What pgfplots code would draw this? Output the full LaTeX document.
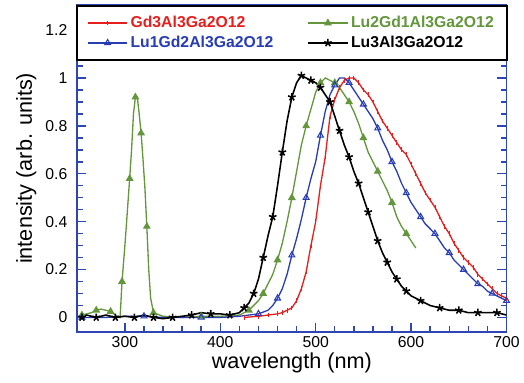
\documentclass[border=0pt]{standalone}
\usepackage{fontspec}
\setmainfont{Liberation Sans}
\usepackage{pgfplots}
\pgfplotsset{compat=1.18}
\definecolor{myred}{RGB}{232,30,30}
\definecolor{myblue}{RGB}{40,60,180}
\definecolor{mygreen}{RGB}{100,150,60}
\definecolor{frameblue}{RGB}{45,70,180}
\begin{document}
\begin{tikzpicture}
\begin{axis}[
  scale only axis, width=327pt, height=249pt,
  xmin=250, xmax=700, ymin=-0.06, ymax=1.305,
  xtick={300,400,500,600,700}, minor x tick num=4,
  ytick={0,0.2,0.4,0.6,0.8,1,1.2}, minor y tick num=3,
  tick align=inside, major tick length=7pt, minor tick length=4.5pt,
  axis line style={frameblue, line width=1.5pt},
  tick style={frameblue, line width=1.1pt},
  ticklabel style={font=\fontsize{12}{14}\selectfont},
  yticklabel style={xshift=-4pt},
  /pgf/number format/assume math mode=true,
  xlabel={wavelength (nm)}, ylabel={intensity (arb. units)},
  label style={font=\fontsize{16.5}{19}\selectfont},
  xlabel style={yshift=3pt},
  legend columns=2,
  legend style={at={(0.5,1)}, anchor=north, draw=black, line width=1.3pt, fill=white,
    font=\bfseries\fontsize{12}{14}\selectfont, inner xsep=8pt, inner ysep=6pt, row sep=1pt,
    /tikz/every even column/.append style={column sep=24pt}},
  legend cell align=left,
  legend image code/.code={\draw[#1, mark repeat=2, mark phase=2] plot coordinates {(0pt,0pt)(15pt,0pt)(30pt,0pt)};},
]
% Gd3Al3Ga2O12
\addplot[myred, line width=1pt, mark=|, mark size=1.8pt, mark options={solid, line width=0.6pt}] table {
425 0.00
440 0.005
450 0.01
460 0.015
465 0.02
470 0.03
475 0.04
480 0.07
485 0.12
490 0.19
495 0.30
500 0.40
505 0.55
510 0.67
515 0.84
520 0.91
525 0.96
530 0.99
535 1.00
540 1.00
545 0.98
550 0.95
555 0.93
560 0.90
565 0.86
570 0.82
575 0.79
580 0.76
585 0.73
590 0.70
595 0.68
600 0.64
605 0.60
610 0.56
615 0.52
620 0.49
625 0.46
630 0.42
635 0.38
640 0.35
645 0.31
650 0.28
655 0.25
660 0.23
665 0.21
670 0.18
675 0.16
680 0.14
685 0.12
690 0.10
695 0.09
700 0.08
};
\addlegendentry{\textcolor{myred}{Gd3Al3Ga2O12}}
% Lu2Gd1Al3Ga2O12
\addplot[mygreen, line width=1pt, mark=triangle*, mark size=2.5pt, mark repeat=3, mark options={solid}] table {
255 0.01
260 0.015
265 0.02
270 0.03
275 0.035
280 0.03
285 0.025
290 0.01
295 0.0
297 0.15
300 0.30
302 0.41
305 0.58
307 0.70
309 0.85
311 0.92
313 0.92
315 0.85
317 0.77
319 0.66
321 0.54
323 0.38
325 0.20
327 0.08
330 0.02
340 0.005
360 0.0
380 0.005
400 0.005
420 0.01
430 0.03
435 0.05
440 0.07
445 0.10
450 0.14
455 0.18
460 0.24
465 0.31
470 0.40
475 0.50
480 0.61
485 0.72
490 0.80
495 0.87
500 0.94
505 0.98
510 1.00
515 0.99
520 0.98
525 0.96
530 0.93
535 0.90
540 0.86
545 0.81
550 0.75
555 0.69
560 0.65
565 0.61
570 0.57
575 0.53
580 0.48
585 0.42
590 0.38
595 0.35
600 0.32
605 0.29
};
\addlegendentry{\textcolor{mygreen}{Lu2Gd1Al3Ga2O12}}
% Lu1Gd2Al3Ga2O12
\addplot[myblue, line width=1pt, mark=triangle, mark size=2.6pt, mark repeat=3, mark options={solid, line width=0.8pt}] table {
255 0.0
280 0.0
300 0.005
320 0.005
340 0.0
360 0.0
380 0.0
400 0.0
420 0.005
440 0.015
450 0.03
455 0.05
460 0.08
465 0.12
470 0.18
475 0.26
480 0.33
485 0.41
490 0.50
495 0.58
500 0.65
505 0.76
510 0.86
515 0.93
520 0.97
525 1.00
530 1.00
535 0.98
540 0.95
545 0.92
550 0.89
555 0.86
560 0.83
565 0.79
570 0.74
575 0.70
580 0.65
585 0.61
590 0.56
595 0.52
600 0.48
605 0.45
610 0.42
615 0.39
620 0.37
625 0.35
630 0.32
635 0.29
640 0.27
645 0.24
650 0.22
655 0.20
660 0.18
665 0.16
670 0.14
675 0.13
680 0.11
685 0.10
690 0.09
695 0.08
700 0.07
};
\addlegendentry{\textcolor{myblue}{Lu1Gd2Al3Ga2O12}}
% Lu3Al3Ga2O12
\addplot[black, line width=1.2pt, mark=star, mark size=3pt, mark repeat=2, mark options={solid, line width=1.2pt}] table {
255 0.0
260 0.01
270 0.0
280 0.01
290 0.0
300 0.005
310 0.0
320 0.01
330 0.0
340 -0.005
350 0.0
360 0.005
370 0.01
380 0.02
390 0.015
400 0.015
410 0.01
420 0.02
425 0.04
430 0.06
435 0.10
440 0.16
445 0.25
450 0.34
455 0.42
460 0.55
465 0.69
470 0.82
475 0.92
480 0.98
485 1.01
490 1.00
495 0.99
500 0.98
505 0.96
510 0.93
515 0.90
520 0.84
525 0.78
530 0.72
535 0.67
540 0.61
545 0.56
550 0.50
555 0.44
560 0.38
565 0.32
570 0.27
575 0.23
580 0.19
585 0.16
590 0.13
595 0.11
600 0.09
610 0.07
620 0.05
630 0.04
640 0.03
650 0.03
660 0.02
670 0.02
680 0.02
690 0.02
700 0.01
};
\addlegendentry{Lu3Al3Ga2O12}
\end{axis}
\path ([xshift=-9pt,yshift=-4pt]current bounding box.south west) ([yshift=3pt]current bounding box.north east);
\end{tikzpicture}
\end{document}
